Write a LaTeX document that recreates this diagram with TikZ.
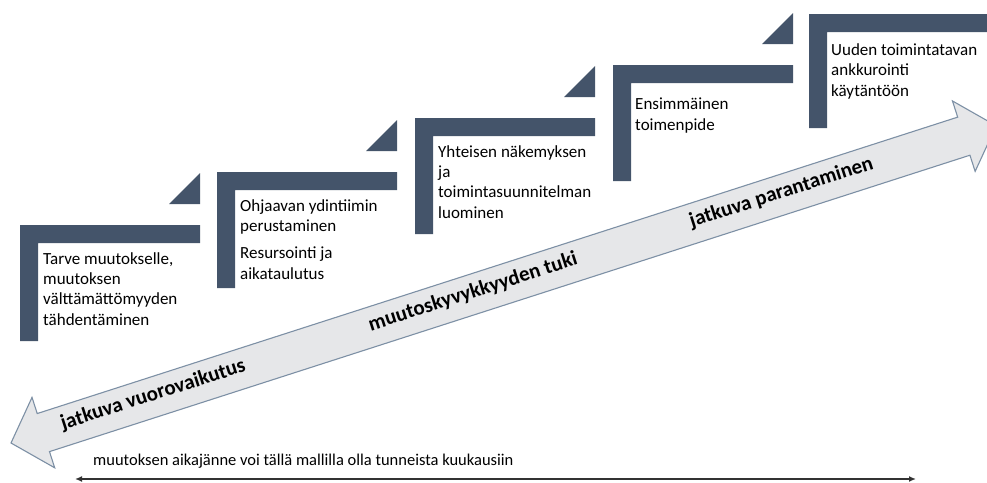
\documentclass[tikz,border=0pt]{standalone}
\usepackage{fontspec}
\setmainfont{Carlito}
\usetikzlibrary{arrows.meta}
\definecolor{stepc}{RGB}{68,84,106}
\definecolor{arrfill}{RGB}{230,231,233}
\definecolor{arredge}{RGB}{125,144,165}
\definecolor{spanc}{RGB}{50,50,50}
\begin{document}
\begin{tikzpicture}[x=1pt,y=-1pt,
  stepfill/.style={fill=stepc,draw=none},
  steptext/.style={anchor=base west,inner sep=0pt,align=left,font=\fontsize{17}{20.3}\selectfont},
  bigarrow/.style={fill=arrfill,draw=arredge,line width=1.1pt,line join=miter},
  arrowtext/.style={font=\bfseries\fontsize{21}{25}\selectfont,rotate=17.85,inner sep=0pt},
  spanline/.style={draw=spanc,line width=1.6pt,{Latex[length=7pt,width=6pt]}-{Latex[length=7pt,width=6pt]}}]
\useasboundingbox (0,0) rectangle (987,482);
\clip (0,0) rectangle (987,482);
% steps 1-4 with triangles
\foreach \x/\y in {20/225,217/172,415/118,613/65}{
  \fill[stepfill] (\x,\y) -- ++(180,0) -- ++(0,18) -- ++(-162,0) -- ++(0,98) -- ++(-18,0) -- cycle;
  \fill[stepfill] (\x+180,\y-21) -- ++(0,-31) -- ++(-31,31) -- cycle;
}
% step 5
\fill[stepfill] (809,14) -- (1000,14) -- (1000,32) -- (827,32) -- (827,128) -- (809,128) -- cycle;
% step texts (anchor = baseline of last line)
\node[steptext] (t1) at (43,325) {Tarve muutokselle,\\muutoksen\\välttämättömyyden\\tähdentäminen};
\node[steptext] (t2) at (240,279) {Ohjaavan ydintiimin\\perustaminen\\[7pt]Resursointi ja\\aikataulutus};
\node[steptext] (t3) at (438,218) {Yhteisen näkemyksen\\ja\\toimintasuunnitelman\\luominen};
\node[steptext] (t4) at (635,130) {Ensimmäinen\\toimenpide};
\node[steptext] (t5) at (831,96) {Uuden toimintatavan\\ankkurointi\\käytäntöön};
% big double arrow
\begin{scope}[shift={(11,443)},rotate=17.85]
  \draw[bigarrow] (0,0) -- (34,-37) -- (34,-20) -- (1001,-20) -- (1001,-37) -- (1035,0)
     -- (1001,37) -- (1001,20) -- (34,20) -- (34,37) -- cycle;
  \node[arrowtext] (a1) at (150,-2) {jatkuva vuorovaikutus};
  \node[arrowtext] (a2) at (486,-2) {muutoskyvykkyyden tuki};
  \node[arrowtext] (a3) at (810,-2) {jatkuva parantaminen};
\end{scope}
% time span
\node[anchor=base west,inner sep=0pt,font=\fontsize{16.5}{19}\selectfont] (span) at (93,465) {muutoksen aikajänne voi tällä mallilla olla tunneista kuukausiin};
\coordinate (sl) at (75,479);
\coordinate (sr) at (916,479);
\draw[spanline] (sl) -- (sr);
\end{tikzpicture}
\end{document}
